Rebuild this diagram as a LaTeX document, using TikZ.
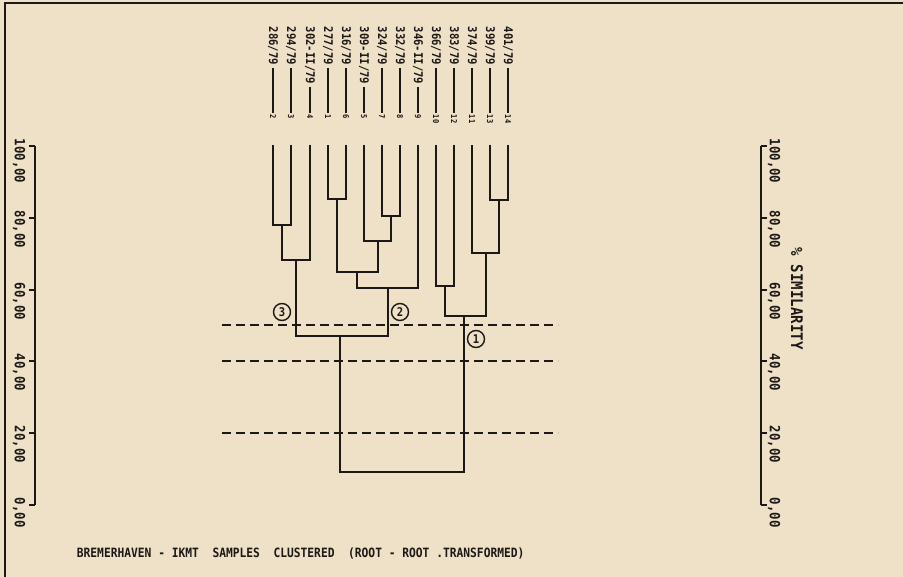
\documentclass[tikz,border=0pt]{standalone}
\usepackage{fontspec}
\newfontfamily\plotfont[FakeStretch=0.88]{DejaVu Sans Mono}
\definecolor{paper}{RGB}{239,225,199}
\definecolor{ink}{RGB}{28,24,22}
\begin{document}
\begin{tikzpicture}[x=1pt,y=-1pt,line width=1.8pt,color=ink,
  leaflabel/.style={rotate=-90,anchor=west,inner sep=0pt,font=\plotfont\bfseries\fontsize{12}{12}\selectfont},
  leafnum/.style={rotate=-90,anchor=west,inner sep=0pt,font=\plotfont\bfseries\fontsize{8}{8}\selectfont},
  axlabel/.style={rotate=-90,anchor=west,inner sep=0pt,font=\plotfont\bfseries\fontsize{14}{14}\selectfont},
  cutline/.style={dash pattern=on 8.5pt off 5.5pt,line width=1.8pt},
  cnum/.style={circle,draw,line width=1.4pt,minimum size=17pt,inner sep=0pt,font=\plotfont\bfseries\fontsize{12}{12}\selectfont},
  branch/.style={line width=2pt,line cap=rect}]
\fill[paper] (0,0) rectangle (903,577);
\useasboundingbox (0,0) rectangle (903,577);
% frame edges
\draw[line width=1.8pt] (5,577) -- (5,3) -- (903,3);
% leaf labels
\foreach \xx/\n/\t in {273/2/{286/79},291/3/{294/79},310/4/{302-II/79},328/1/{277/79},346/6/{316/79},364/5/{309-II/79},382/7/{324/79},400/8/{332/79},418/9/{346-II/79},436/10/{366/79},454/12/{383/79},472/11/{374/79},490/13/{399/79},508/14/{401/79}}{
  \node[leaflabel] (t\n) at (\xx,26) {\t};
  \node[leafnum] (n\n) at (\xx,114) {\n};
  \draw[line width=1.8pt] ([yshift=-2pt]t\n.east) -- ([yshift=1pt]n\n.west);
  \coordinate (c\n) at (\xx,146);
}
% merge points
\coordinate (A) at (282,225);
\coordinate (B) at (296,260);
\coordinate (C) at (337,199);
\coordinate (D) at (391,216);
\coordinate (E) at (378,241);
\coordinate (F) at (357,272);
\coordinate (G) at (388,288);
\coordinate (H) at (340,336);
\coordinate (I) at (445,286);
\coordinate (J) at (499,200);
\coordinate (K) at (486,253);
\coordinate (M) at (464,316);
\coordinate (R) at (402,472);
\draw[branch] (c2) |- (A) -| (c3);
\draw[branch] (A) |- (B) -| (c4);
\draw[branch] (c1) |- (C) -| (c6);
\draw[branch] (c7) |- (D) -| (c8);
\draw[branch] (c5) |- (E) -| (D);
\draw[branch] (C) |- (F) -| (E);
\draw[branch] (F) |- (G) -| (c9);
\draw[branch] (B) |- (H) -| (G);
\draw[branch] (c10) |- (I) -| (c12);
\draw[branch] (c13) |- (J) -| (c14);
\draw[branch] (c11) |- (K) -| (J);
\draw[branch] (I) |- (M) -| (K);
\draw[branch] (H) |- (R) -| (M);
% cut lines
\coordinate (d1l) at (222,325); \coordinate (d1r) at (558,325);
\coordinate (d2l) at (222,361); \coordinate (d2r) at (558,361);
\coordinate (d3l) at (222,433); \coordinate (d3r) at (558,433);
\draw[cutline] (d1l) -- (d1r);
\draw[cutline] (d2l) -- (d2r);
\draw[cutline] (d3l) -- (d3r);
% circled group numbers
\node[cnum] (k3) at (282,312) {3};
\node[cnum] (k2) at (400,312) {2};
\node[cnum] (k1) at (476,339) {1};
% axes
\draw (35,146) -- (35,505);
\draw (761,146) -- (761,505);
\foreach \y/\v/\nm in {146/{100,00}/a100,218/{80,00}/a80,290/{60,00}/a60,361/{40,00}/a40,433/{20,00}/a20,505/{0,00}/a0}{
  \draw (29,\y) -- (35,\y);
  \draw (761,\y) -- (767,\y);
  \node[axlabel] (l\nm) at (19,\y-8) {\v};
  \node[axlabel] (r\nm) at (774,\y-8) {\v};
}
\node[rotate=-90,anchor=west,inner sep=0pt,font=\plotfont\bfseries\fontsize{16}{16}\selectfont] (sim) at (797,247) {\% SIMILARITY};
\node[anchor=west,inner sep=0pt,font=\plotfont\bfseries\fontsize{12.8}{12.8}\selectfont] (title) at (76,553) {BREMERHAVEN - IKMT~ SAMPLES~ CLUSTERED~ (ROOT - ROOT .TRANSFORMED)};
\end{tikzpicture}
\end{document}
